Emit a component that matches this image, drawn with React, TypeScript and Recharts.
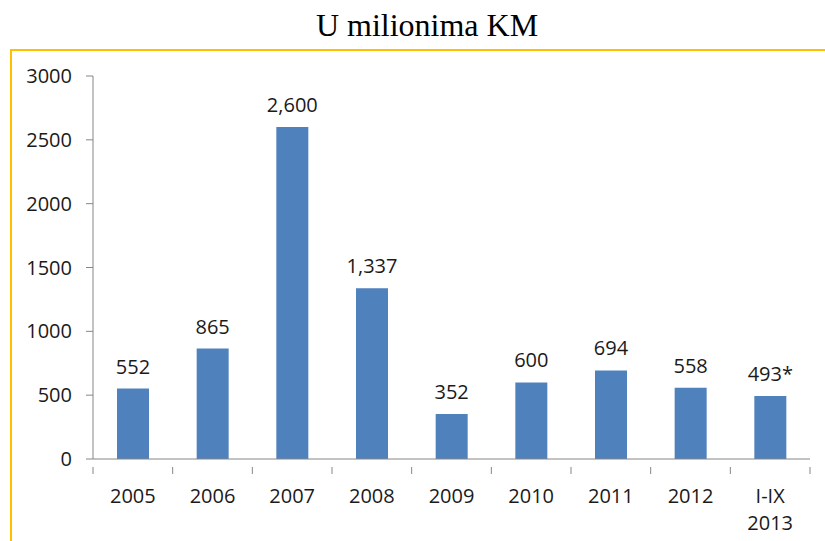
import React from "react";
import { Bar, BarChart, LabelList, XAxis, YAxis } from "recharts";

const categories = ["2005", "2006", "2007", "2008", "2009", "2010", "2011", "2012", "I-IX\n2013"];
const values = [552, 865, 2600, 1337, 352, 600, 694, 558, 493];
const valueLabels = ["552", "865", "2,600", "1,337", "352", "600", "694", "558", "493*"];
const yTicks = [0, 500, 1000, 1500, 2000, 2500, 3000];

const data = categories.map((name, i) => ({ name, value: values[i], label: valueLabels[i] }));

const W = 825;
const H = 541;
const PLOT_LEFT = 93;
const PLOT_RIGHT = 810;
const BAND = (PLOT_RIGHT - PLOT_LEFT) / categories.length;
const AXIS_GREY = "#868686";
const TEXT = "#1a1a1a";
const FONT = "'Open Sans', sans-serif";
const FS = 20;

const XTick = (props: any) => {
  const { x, y, payload, index } = props;
  const lines = String(payload.value).split("\n");
  return (
    <g>
      <line x1={x - BAND / 2} y1={y} x2={x - BAND / 2} y2={y + 7} stroke={AXIS_GREY} />
      {index === categories.length - 1 && (
        <line x1={x + BAND / 2} y1={y} x2={x + BAND / 2} y2={y + 7} stroke={AXIS_GREY} />
      )}
      {lines.map((l, i) => (
        <text key={i} x={x} y={y + 36 + i * 27} textAnchor="middle" fill={TEXT} fontSize={FS} fontFamily={FONT}>
          {l}
        </text>
      ))}
    </g>
  );
};

const TopLabel = (props: any) => {
  const { x, y, width, index } = props;
  return (
    <text x={x + width / 2} y={y - 15} textAnchor="middle" fill={TEXT} fontSize={FS} fontFamily={FONT}>
      {valueLabels[index]}
    </text>
  );
};

export default function App() {
  return (
    <div style={{ position: "absolute", left: 0, top: 0, width: W, height: H, background: "#fff" }}>
      <svg width={W} height={H} style={{ position: "absolute", left: 0, top: 0 }}>
        <text x={427} y={36} textAnchor="middle" fontSize={32} fontFamily="'Liberation Serif', serif" fill="#000">
          U milionima KM
        </text>
        <line x1={10} y1={50} x2={W} y2={50} stroke="#FFC000" strokeWidth={2} />
        <line x1={11} y1={50} x2={11} y2={H} stroke="#FFC000" strokeWidth={2} />
      </svg>
      <div style={{ position: "absolute", left: 0, top: 0 }}>
        <BarChart width={W} height={H} data={data} margin={{ top: 76, right: W - PLOT_RIGHT, bottom: 12, left: 33 }}>
          <XAxis
            dataKey="name"
            interval={0}
            tickLine={false}
            axisLine={{ stroke: AXIS_GREY }}
            tick={<XTick />}
            height={70}
          />
          <YAxis
            domain={[0, 3000]}
            ticks={yTicks}
            width={60}
            tickSize={7}
            tickMargin={14}
            axisLine={{ stroke: AXIS_GREY }}
            tickLine={{ stroke: AXIS_GREY }}
            tick={{ fill: TEXT, fontSize: FS, fontFamily: FONT }}
          />
          <Bar dataKey="value" fill="#4F81BD" barSize={32} isAnimationActive={false}>
            <LabelList dataKey="label" content={<TopLabel />} />
          </Bar>
        </BarChart>
      </div>
    </div>
  );
}
